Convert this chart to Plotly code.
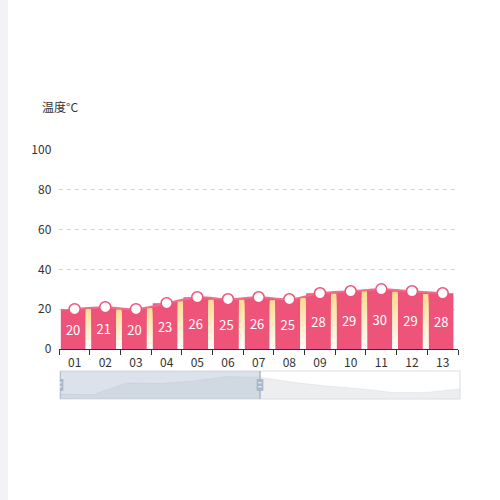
import plotly.graph_objects as go

# ---- data ----
days = ["01", "02", "03", "04", "05", "06", "07", "08", "09", "10", "11", "12", "13"]
temps = [20, 21, 20, 23, 26, 25, 26, 25, 28, 29, 30, 29, 28]
# thin yellow "side" bars sitting at the right edge of days 01..12
side_vals = [20.1, 19.8, 20.6, 24.0, 24.8, 24.8, 24.5, 25.6, 27.8, 29.0, 28.8, 27.6]
# dataZoom data shadow (height in slider pixels)
shadow_vals = [5, 4.5, 16, 15.5, 18, 22.5, 21.5, 16.7, 13, 10.3, 6.5, 6.6, 10]
zoom_start, zoom_end = 0, 50  # percent
y_ticks = [0, 20, 40, 60, 80, 100]

PINK = "#ee5479"
LINE_PINK = "#f06d8f"
YELLOW = (253, 219, 142)
FONT = "Microsoft YaHei, Noto Sans CJK SC, sans-serif"

fig = go.Figure()

# area under the smooth line (base subplot, drawn below the bars)
fig.add_trace(go.Scatter(
    x=days, y=temps, mode="lines", line=dict(shape="spline", color=PINK, width=0),
    fill="tozeroy", fillcolor=PINK, xaxis="x", yaxis="y", hoverinfo="skip",
))

# yellow -> white gradient side bars: tallest (yellow) first, shorter/whiter ones on top
n_bands = 20
side_x = days[:len(side_vals)]
for k in range(n_bands, 0, -1):
    frac = k / n_bands
    t = (k - 0.5) / n_bands
    col = "rgb({},{},{})".format(*[round(255 + t * (c - 255)) for c in YELLOW])
    fig.add_trace(go.Bar(
        x=side_x, y=[v * frac for v in side_vals], offset=0.355, width=0.18,
        marker=dict(color=col, line=dict(width=0)), xaxis="x3", yaxis="y3",
        hoverinfo="skip",
    ))

# main pink bars with labels
fig.add_trace(go.Bar(
    x=days, y=temps, offset=-0.45, width=0.8,
    marker=dict(color=PINK, line=dict(width=0)),
    text=[str(v) for v in temps], textposition="inside", insidetextanchor="middle",
    textangle=0, textfont=dict(color="white", size=13, family=FONT),
    constraintext="none", xaxis="x3", yaxis="y3", hoverinfo="skip",
))

# smooth line with hollow markers
fig.add_trace(go.Scatter(
    x=days, y=temps, mode="lines+markers",
    line=dict(shape="spline", color=LINE_PINK, width=2),
    marker=dict(size=11, color="white", line=dict(color=PINK, width=1.5)),
    xaxis="x3", yaxis="y3", hoverinfo="skip",
))

# dataZoom shadow
fig.add_trace(go.Scatter(
    x=list(range(len(shadow_vals))), y=shadow_vals, mode="lines",
    line=dict(color="rgba(47,69,84,0.15)", width=0.5),
    fill="tozeroy", fillcolor="rgba(47,69,84,0.09)",
    xaxis="x2", yaxis="y2", hoverinfo="skip",
))

x_dom = [59.3 / 500, 458 / 500]
cat_axis = dict(type="category", categoryorder="array", categoryarray=days,
                range=[-0.5, len(days) - 0.5], fixedrange=True, automargin=False)

fig.update_layout(
    width=500, height=500, margin=dict(l=0, r=0, t=0, b=0, pad=0),
    paper_bgcolor="white", plot_bgcolor="white",
    showlegend=False, barmode="overlay", hovermode=False,
    font=dict(family=FONT, size=12, color="#333"),
    xaxis=dict(**cat_axis, domain=x_dom, anchor="y",
               showline=True, linecolor="#333", linewidth=1,
               ticks="outside", tickson="boundaries", ticklen=5, tickcolor="#333",
               ticklabelstandoff=3,
               showgrid=False, tickfont=dict(size=12, color="#333")),
    yaxis=dict(domain=[1 - 349 / 500, 1 - 150 / 500], range=[0, 100], anchor="x",
               tickvals=y_ticks, showgrid=True, gridcolor="#d6d6d6",
               griddash="4px,4px", zeroline=False, showline=False,
               ticklabelstandoff=7, tickfont=dict(size=12, color="#333"),
               fixedrange=True, automargin=False),
    xaxis3=dict(**cat_axis, overlaying="x", anchor="y3", visible=False),
    yaxis3=dict(range=[0, 100], overlaying="y", anchor="x3", visible=False,
                fixedrange=True, automargin=False),
    xaxis2=dict(domain=[60 / 500, 460 / 500], range=[0, len(shadow_vals) - 1],
                anchor="y2", visible=False, fixedrange=True, automargin=False),
    yaxis2=dict(domain=[1 - 399 / 500, 1 - 371 / 500], range=[0, 28],
                anchor="x2", visible=False, fixedrange=True, automargin=False),
)

fig.add_annotation(text="温度°C", x=40 / 500, y=1 - 107 / 500, xref="paper", yref="paper",
                   xanchor="left", yanchor="middle", showarrow=False,
                   font=dict(size=12, color="#333", family=FONT))

# left page strip
fig.add_shape(type="rect", xref="paper", yref="paper", x0=0, x1=8 / 500, y0=0, y1=1,
              fillcolor="#f2f2f7", line=dict(width=0), layer="below")

# slider frame, window and handles
span = len(shadow_vals) - 1
w0, w1 = zoom_start / 100 * span, zoom_end / 100 * span
fig.add_shape(type="rect", xref="x2 domain", yref="y2 domain", x0=0, x1=1, y0=0, y1=1,
              line=dict(color="#dddddd", width=1), fillcolor="rgba(0,0,0,0)", layer="above")
fig.add_shape(type="rect", xref="x2", yref="y2 domain", x0=w0, x1=w1, y0=0, y1=1,
              fillcolor="rgba(167,183,204,0.4)", line=dict(width=0), layer="above")
for xh in (w0, w1):
    fig.add_shape(type="line", xref="x2", yref="y2 domain", x0=xh, x1=xh, y0=0, y1=1,
                  line=dict(color="#a7b7cc", width=1.5), layer="above")
    fig.add_shape(type="rect", xref="x2", yref="y2 domain", x0=xh - 0.1, x1=xh + 0.1,
                  y0=0.29, y1=0.71, fillcolor="#a7b7cc", line=dict(width=0), layer="above")
    for yy in (0.435, 0.58):
        fig.add_shape(type="line", xref="x2", yref="y2 domain", x0=xh - 0.05, x1=xh + 0.05,
                      y0=yy, y1=yy, line=dict(color="white", width=1), layer="above")

# drop the default page margin so the 500x500 figure sits at the window origin
fig.write_html("out.html", config={"displayModeBar": False},
               post_script="document.body.style.margin='0';")
